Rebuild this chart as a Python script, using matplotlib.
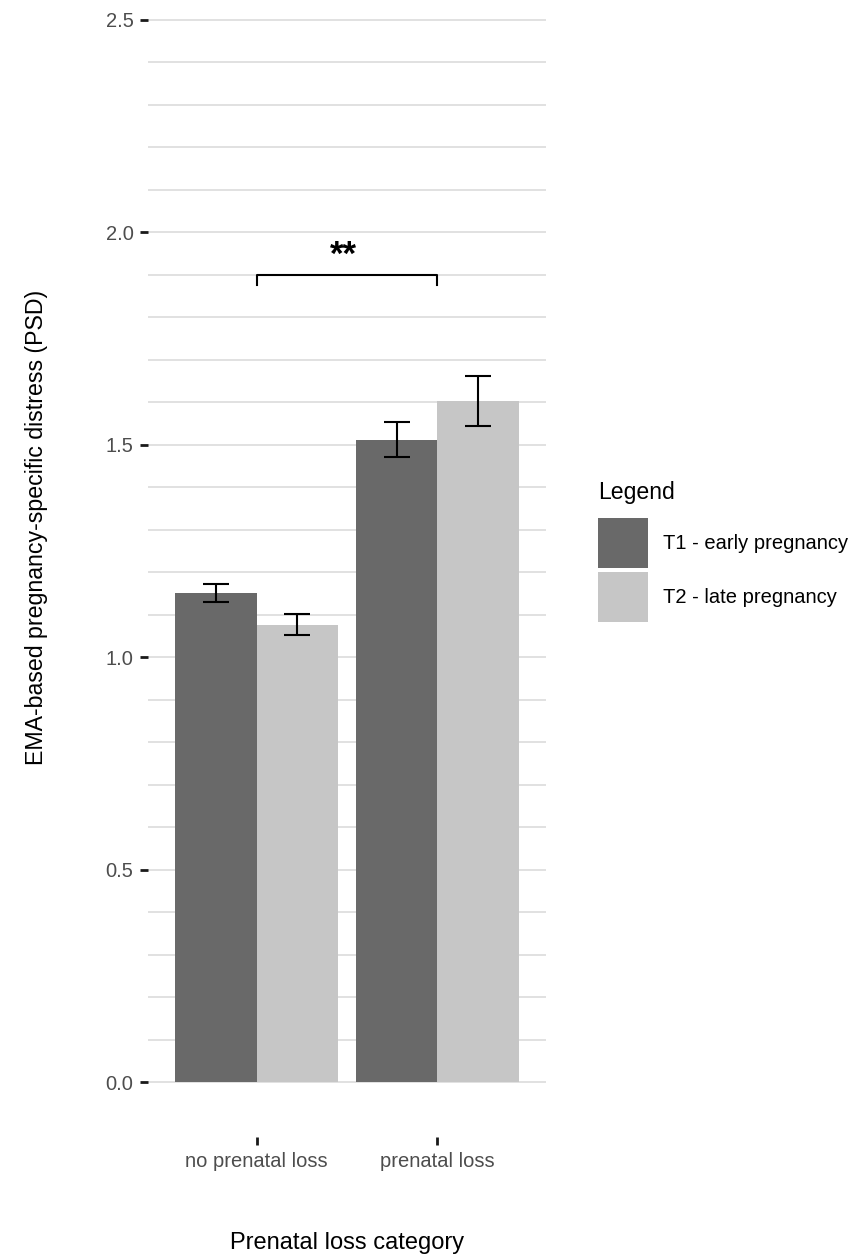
import matplotlib
matplotlib.use("Agg")
import matplotlib.pyplot as plt
import numpy as np

plt.rcParams["font.family"] = ["Liberation Sans", "DejaVu Sans"]

categories = ["no prenatal loss", "prenatal loss"]
series = ["T1 - early pregnancy", "T2 - late pregnancy"]
t1_mean = [1.151, 1.512]
t2_mean = [1.077, 1.604]
t1_err = [0.022, 0.041]
t2_err = [0.025, 0.059]
y_ticks = [0.0, 0.5, 1.0, 1.5, 2.0, 2.5]
sig_label = "**"
sig_y = 1.9

colors = ["#696969", "#c6c6c6"]
bar_w = 0.45

fig = plt.figure(figsize=(8.64, 12.56), dpi=100)
ax = fig.add_axes([148 / 864, 1 - 1083 / 1256, 398 / 864, 1064 / 1256])

x = np.arange(1, len(categories) + 1)

# grid: every 0.1, white vertical lines at categories
ax.set_yticks(y_ticks)
ax.set_yticks(np.round(np.arange(0, 2.51, 0.1), 2), minor=True)
ax.grid(axis="y", which="both", color="#d9d9d9", lw=1.1, zorder=0)
for xc in x:
    ax.axvline(xc, color="white", lw=1.2, zorder=0.5)

ax.bar(x - bar_w / 2, t1_mean, bar_w, color=colors[0], label=series[0], zorder=2)
ax.bar(x + bar_w / 2, t2_mean, bar_w, color=colors[1], label=series[1], zorder=2)
ax.errorbar(x - bar_w / 2, t1_mean, yerr=t1_err, fmt="none", ecolor="black",
            elinewidth=1.5, capsize=9.7, capthick=1.5, zorder=3)
ax.errorbar(x + bar_w / 2, t2_mean, yerr=t2_err, fmt="none", ecolor="black",
            elinewidth=1.5, capsize=9.7, capthick=1.5, zorder=3)

# significance bracket
ax.plot([x[0], x[0], x[1], x[1]], [sig_y - 0.023, sig_y, sig_y, sig_y - 0.023],
        color="black", lw=1.5, zorder=3)
ax.text(x.mean() - 0.02, sig_y + 0.045, sig_label, ha="center", va="center",
        fontsize=25, fontweight="bold")

ax.set_xlim(0.4, 2.6)
ax.set_ylim(-0.002, 2.502)
ax.set_xticks(x)
ax.set_xticklabels(categories)
ax.set_yticklabels([f"{v:.1f}" for v in y_ticks])

for s in ax.spines.values():
    s.set_visible(False)
ax.spines["bottom"].set_position(("outward", 39))
ax.tick_params(axis="both", which="major", length=5.5, width=2, color="#1a1a1a",
               labelsize=14.5, labelcolor="#4d4d4d", pad=5)
ax.tick_params(axis="y", which="minor", length=0)

fig.text(37 / 864, 1 - 527 / 1256, "EMA-based pregnancy-specific distress (PSD)",
         rotation=90, ha="center", va="center", fontsize=16.7)
fig.text(347 / 864, 1 - 1243 / 1256, "Prenatal loss category",
         ha="center", va="center", fontsize=17)

# legend (title placed separately to get the ggplot spacing)
fig.text(598 / 864, 1 - 492 / 1256, "Legend", ha="left", va="center",
         fontsize=16.6)
leg = ax.legend(loc="upper left",
                bbox_to_anchor=(598 / 864, 1 - 518 / 1256),
                bbox_transform=fig.transFigure, frameon=False,
                fontsize=14.5, handlelength=2.48,
                handleheight=3.44, labelspacing=0.2, handletextpad=0.75,
                borderpad=0, borderaxespad=0)

fig.savefig("out.png", dpi=100)
